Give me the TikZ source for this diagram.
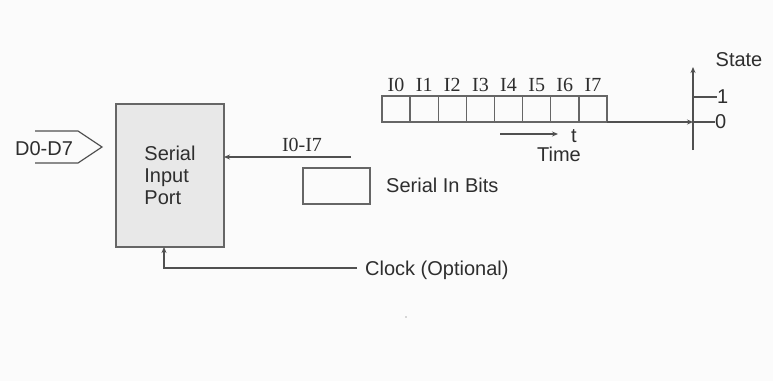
\documentclass[tikz,border=0pt]{standalone}
\usepackage{fontspec}
\setmainfont{Liberation Sans}
\newfontfamily\serfont{Liberation Serif}
\usetikzlibrary{arrows.meta}
\definecolor{bg}{HTML}{FBFBFB}
\definecolor{ln}{HTML}{505050}
\definecolor{boxfill}{HTML}{E8E8E8}
\definecolor{boxline}{HTML}{666666}
\definecolor{txt}{HTML}{2E2E2E}
\begin{document}
\begin{tikzpicture}[x=1pt,y=-1pt,
  lab/.style={text=txt,inner sep=0pt,font=\fontsize{20}{22}\selectfont},
  slab/.style={text=txt,inner sep=0pt,font=\serfont\fontsize{20}{22}\selectfont},
  conn/.style={draw=ln,line width=1.2pt},
  arr/.style={conn,-{Stealth[length=6pt,width=5pt]}},
  bitbox/.style={draw=boxline,line width=1.4pt,minimum width=28.125pt,minimum height=26pt,inner sep=0pt,outer sep=0pt},
]
\fill[bg] (0,0) rectangle (773,381);
\useasboundingbox (0,0) rectangle (773,381);

% main port box
\node[draw=boxline, fill=boxfill, line width=1.5pt, minimum width=108pt, minimum height=143pt,
      align=left, lab, outer sep=0pt] (port) at (170,175.5) {Serial\\Input\\Port};

% D0-D7 input
\node[lab, anchor=base] (d07) at (44,155) {D0-D7};
\draw[conn] (35,131) -- (78,131) -- (102,147) -- (78,163) -- (35,163);

% I0-I7 serial input
\coordinate (iin) at (351,157);
\draw[arr] (iin) -- (iin -| port.east);
\node[slab, anchor=base] (iinlab) at (302,151.5) {I0-I7};

% legend
\node[draw=boxline, line width=1.4pt, minimum width=67pt, minimum height=36pt, inner sep=0pt] (legend) at (336.5,186) {};
\node[lab, anchor=base west] (legendtxt) at (386,192.5) {Serial In Bits};

% bits
\foreach \i in {0,...,7} {
  \node[bitbox] (b\i) at ({396.0625+28.125*\i},109) {};
  \node[slab, anchor=base] (l\i) at ({396.0625+28.125*\i},91) {I\i};
}

% state axis
\coordinate (ybot) at (693,150);
\coordinate (ytop) at (693,67);
\draw[arr] (ybot) -- (ytop);
\coordinate (ax0) at (693,122);
\draw[arr] (b7.south east) -- (ax0);
\coordinate (ax1) at (693,97);
\node[lab, anchor=base west] (one) at (717,103) {1};
\node[lab, anchor=base west] (zero) at (715,128) {0};
\draw[conn] (ax1) -- (one.west |- ax1);
\draw[conn] (ax0) -- (zero.west |- ax0);
\node[lab, anchor=base] (state) at (739,66) {State};

% time arrow
\coordinate (ta) at (500,134);
\coordinate (tb) at (558,134);
\draw[arr] (ta) -- (tb);
\node[lab, anchor=base] (tlab) at (574,142) {t};
\node[lab, anchor=base] (time) at (559,161) {Time};

% clock
\node[lab, anchor=base west] (clock) at (365,275) {Clock (Optional)};
\coordinate (clk) at (357,268);
\coordinate (clkin) at ([xshift=-6pt]port.south);
\draw[arr] (clk) -| (clkin);

% speck
\fill[gray!60] (406,317) circle (0.8);
\end{tikzpicture}
\end{document}
